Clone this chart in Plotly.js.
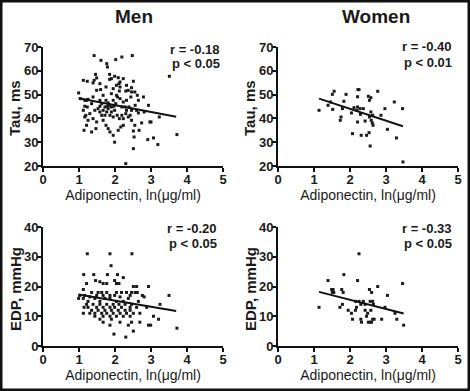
<!DOCTYPE html>
<html><head><meta charset="utf-8">
<script src="https://cdn.plot.ly/plotly-3.0.1.min.js"></script>
<style>html,body{margin:0;padding:0;background:#fff}#chart{width:470px;height:391px}</style>
</head><body><div id="chart"></div>
<script>
// Men, Tau (ms) vs Adiponectin ln(µg/ml)
const menTauX = [1.42,1.61,1.77,1.79,2.02,2.19,2.48,3.51,3.72,2.30,2.51,3.19,3.07,2.91,3.00,3.23,2.79,2.93,2.81,1.12,1.23,1.39,1.49,1.46,1.42,1.90,1.85,1.99,2.09,1.85,2.14,2.23,2.14,2.12,2.30,2.37,2.51,2.46,2.55,2.44,0.99,1.04,1.16,1.25,1.39,1.49,1.67,1.75,1.63,1.81,1.85,1.95,2.04,2.14,2.23,2.28,2.32,2.39,2.46,2.56,2.60,2.65,1.16,1.23,1.12,1.30,1.44,1.53,1.58,1.63,1.67,1.72,1.77,1.81,1.86,1.90,1.95,1.99,2.06,2.12,2.19,2.23,2.30,2.37,2.42,2.46,1.16,1.25,1.39,1.49,1.21,1.14,1.35,1.47,1.75,1.81,1.86,1.95,1.99,2.09,2.16,2.23,2.51,2.53,2.55,2.67,2.74,2.97,1.21,1.58,1.72,1.79,1.90,1.97,2.02,2.19,2.32,1.35,1.58,1.67,1.60,1.95,2.04,1.58,1.75,2.32,2.62,2.46,2.11,1.90,2.07,2.65,1.19];
const menTauY = [66.4,64.4,63.0,61.6,64.7,65.8,66.4,57.7,33.2,21.0,27.3,29.0,31.8,31.1,38.5,40.6,49.0,45.5,42.7,56.0,55.6,54.9,57.0,58.5,56.0,56.7,56.4,57.7,57.1,58.5,55.3,56.7,53.2,51.5,51.5,51.8,55.6,52.9,51.1,49.0,50.7,48.3,47.6,48.0,49.0,51.8,49.7,47.6,46.2,46.5,45.5,47.6,49.7,48.3,46.9,44.8,47.6,44.8,43.4,45.5,43.4,42.3,45.1,44.8,43.4,42.0,43.4,44.1,42.7,41.3,43.4,41.3,42.7,44.1,41.3,42.7,40.6,43.4,41.3,39.9,41.3,39.9,42.0,40.6,41.3,39.2,40.6,39.2,39.9,38.5,37.1,35.0,34.3,35.7,37.1,35.7,34.3,32.9,30.0,35.0,36.4,37.1,34.7,32.2,37.1,35.0,38.1,38.5,47.6,47.6,44.8,45.1,44.8,45.1,46.2,44.8,43.4,46.2,45.1,39.2,52.1,52.5,53.9,54.6,53.2,53.9,49.7,51.1,54.6,50.4,49.0,47.6,41.3];
const menTauFitX = [0.99, 3.70];
const menTauFitY = [48.5, 40.7];

// Women, Tau (ms)
const womenTauX = [1.14,1.39,1.46,1.51,1.56,1.52,1.73,1.75,1.79,1.83,1.89,2.04,2.07,2.11,2.19,2.21,2.22,2.25,2.21,2.28,2.29,2.21,2.31,2.37,2.42,2.46,2.53,2.54,2.54,2.51,2.58,2.56,2.58,2.63,2.62,2.64,2.59,2.77,2.86,2.97,3.04,3.23,3.29,3.46,3.47];
const womenTauY = [43.4,45.5,46.9,50.1,51.4,43.8,39.2,40.6,44.1,47.2,50.1,42.3,33.6,44.5,43.4,44.8,52.1,52.1,49.1,44.1,41.7,38.5,32.9,44.1,38.9,32.9,34.0,40.6,47.6,49.3,48.7,28.4,42.7,41.3,38.1,37.1,39.2,51.4,41.3,44.1,35.4,46.9,31.8,44.1,21.7];
const womenTauFitX = [1.14, 3.47];
const womenTauFitY = [48.3, 36.7];

// Men, EDP (mmHg)
const menEdpX = [1.23,1.86,2.47,1.89,1.13,1.41,1.79,2.07,1.99,1.46,2.23,1.21,1.67,1.77,2.04,2.11,1.58,2.51,2.60,2.93,1.12,1.35,1.53,1.63,1.77,2.04,2.18,2.32,2.46,2.56,2.62,2.76,3.50,1.02,1.16,1.30,1.49,1.67,1.86,1.99,2.14,2.42,2.81,0.99,1.12,1.25,1.44,1.58,1.72,1.86,2.04,2.23,2.37,2.65,1.21,1.39,1.58,1.77,1.95,2.11,2.28,2.46,3.25,1.14,1.25,1.49,1.67,1.86,1.99,2.18,2.42,2.60,2.88,1.35,1.53,1.72,1.90,2.09,2.28,2.42,1.12,1.30,1.44,1.63,1.77,1.95,2.14,2.32,2.51,2.69,3.07,1.44,1.67,1.86,2.04,2.23,2.42,3.21,1.58,1.90,2.14,2.46,2.69,1.67,1.86,2.37,2.93,2.99,3.72,2.51,1.97,2.30];
const menEdpY = [31,31,31,27,24,24,24,24,22,22,23,21,21,21,21,21,21.6,20,20,20,19,18,18,18,18,18,18,18,18,18,18,17,17,17,17,16.5,17,17,17,17,16.5,17,16.5,16,16,15,16,15,16,16,15,15,16,15,14,14,14,14,14,14,14,14,14,13,13,13,13,13,13,13,13,13,13,12,12,12,12,12,12,12,11,11,11,11,11,11,11,11,11,11,10,10,10,10,10,10,10,9,9,9,8,8,8,8,7,7,7,7,6,5,4,3];
const menEdpFitX = [0.99, 3.70];
const menEdpFitY = [17.3, 11.8];

// Women, EDP (mmHg)
const womenEdpX = [1.14,1.39,1.49,1.53,1.51,1.55,1.77,1.83,1.81,1.72,1.79,1.95,2.04,2.07,2.16,2.21,2.25,2.15,2.25,2.30,2.30,2.32,2.37,2.42,2.46,2.49,2.51,2.54,2.56,2.60,2.58,2.56,2.60,2.63,2.65,2.63,2.67,2.77,2.88,2.97,3.04,3.25,3.30,3.46,3.49,2.18,2.42];
const womenEdpY = [13,22,19,19,18,18,19,24,18,13,14,12,11,9,15,22,31,12,15,14,9,8,15,12,10,11,8,19,15,18,12,8,8,15,14,9,9,20,9,13,17,11,9,21,7,13,14];
const womenEdpFitX = [1.14, 3.49];
const womenEdpFitY = [18.2, 10.9];

const xTicks = [0,1,2,3,4,5];
const tauTicks = [20,30,40,50,60,70];
const edpTicks = [0,10,20,30,40];

const FONT = 'Arial, "Liberation Sans", sans-serif';
const ptStyle = {symbol:'square', size:3, color:'#1a1a1a'};
const lnStyle = {color:'#111', width:2};

function pts(x,y,xa,ya){return {x:x,y:y,xaxis:xa,yaxis:ya,type:'scatter',mode:'markers',marker:ptStyle,hoverinfo:'skip',showlegend:false,cliponaxis:false};}
function fit(x,y,xa,ya){return {x:x,y:y,xaxis:xa,yaxis:ya,type:'scatter',mode:'lines',line:lnStyle,hoverinfo:'skip',showlegend:false};}

const data = [
  pts(menTauX,menTauY,'x','y'), fit(menTauFitX,menTauFitY,'x','y'),
  pts(womenTauX,womenTauY,'x2','y2'), fit(womenTauFitX,womenTauFitY,'x2','y2'),
  pts(menEdpX,menEdpY,'x3','y3'), fit(menEdpFitX,menEdpFitY,'x3','y3'),
  pts(womenEdpX,womenEdpY,'x4','y4'), fit(womenEdpFitX,womenEdpFitY,'x4','y4')
];

const W=470,H=391;
function xd(a,b){return [a/W,b/W];}
function yd(top,bot){return [1-bot/H,1-top/H];}

function xax(dom,anchor){return {domain:dom,anchor:anchor,range:[0,5],tickvals:xTicks,ticktext:xTicks.map(String),
  showline:true,linecolor:'#111',linewidth:2,ticks:'outside',ticklen:4,tickwidth:2,tickcolor:'#111',ticklabelstandoff:-4,
  showgrid:false,zeroline:false,tickfont:{family:FONT,size:13,color:'#1a1a1a',weight:'bold'},
  title:{text:'Adiponectin, ln(\u03bcg/ml)',font:{family:FONT,size:14,color:'#1a1a1a'},standoff:4}};}
function yax(dom,anchor,range,ticks){return {domain:dom,anchor:anchor,range:range,tickvals:ticks,ticktext:ticks.map(String),
  showline:true,linecolor:'#111',linewidth:2,ticks:'outside',ticklen:4,tickwidth:2,tickcolor:'#111',ticklabelstandoff:-4,
  showgrid:false,zeroline:false,tickfont:{family:FONT,size:13,color:'#1a1a1a',weight:'bold'}};}

const X1=xd(43,223), X2=xd(278,458), YT=yd(47,166), YB=yd(227,346);

function ann(text,x,y){return {text:text,xref:'paper',yref:'paper',x:x/W,y:1-y/H,xanchor:'right',yanchor:'middle',showarrow:false,
  font:{family:FONT,size:13,color:'#1a1a1a',weight:'bold'}};}
function ytitle(text,x,y){return {text:text,xref:'paper',yref:'paper',x:x/W,y:1-y/H,xanchor:'center',yanchor:'middle',textangle:-90,showarrow:false,
  font:{family:FONT,size:15,color:'#1a1a1a',weight:'bold'}};}

const layout = {
  width:W,height:H,margin:{l:0,r:0,t:0,b:0},paper_bgcolor:'#fff',plot_bgcolor:'#fff',
  xaxis:xax(X1,'y'), yaxis:yax(YT,'x',[20,70],tauTicks),
  xaxis2:xax(X2,'y2'), yaxis2:yax(YT,'x2',[20,70],tauTicks),
  xaxis3:xax(X1,'y3'), yaxis3:yax(YB,'x3',[0,40],edpTicks),
  xaxis4:xax(X2,'y4'), yaxis4:yax(YB,'x4',[0,40],edpTicks),
  annotations:[
    {text:'Men',xref:'paper',yref:'paper',x:134/W,y:1-17/H,xanchor:'center',yanchor:'middle',showarrow:false,font:{family:FONT,size:19,color:'#1a1a1a',weight:'bold'}},
    {text:'Women',xref:'paper',yref:'paper',x:376/W,y:1-17/H,xanchor:'center',yanchor:'middle',showarrow:false,font:{family:FONT,size:19,color:'#1a1a1a',weight:'bold'}},
    ytitle('Tau, ms',15,108), ytitle('Tau, ms',250,108),
    ytitle('EDP, mmHg',15,289), ytitle('EDP, mmHg',250,289),
    ann('r = -0.18',222,49), ann('p < 0.05',222,63),
    ann('r = -0.40',454,47), ann('p < 0.01',454,62),
    ann('r = -0.20',219,228), ann('p < 0.05',219,243),
    ann('r = -0.33',454,228), ann('p < 0.05',454,243)
  ],
  shapes:[{type:'rect',xref:'paper',yref:'paper',x0:0,x1:1,y0:0,y1:1,line:{color:'#111',width:5},layer:'above'}]
};

Plotly.newPlot('chart',data,layout,{staticPlot:true,displayModeBar:false});
</script></body></html>
